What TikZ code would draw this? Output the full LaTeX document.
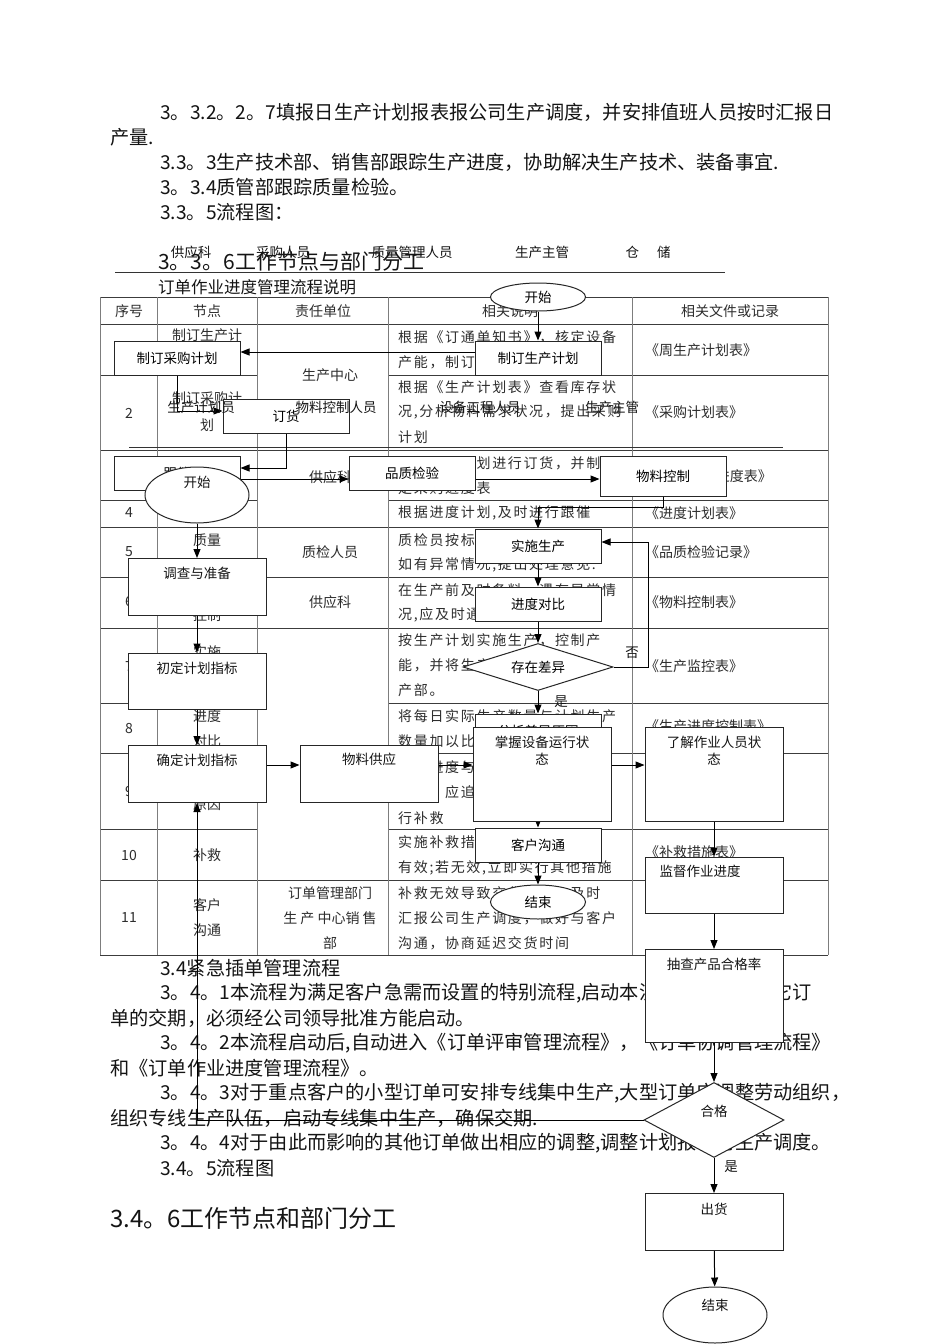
\documentclass[tikz,border=0pt]{standalone}
\usepackage{fontspec}
\setmainfont{Noto Sans CJK SC}
\newfontfamily\widecjk[LetterSpace=12]{Noto Sans CJK SC}
\usepackage{xcolor}
\usepackage{tikz}
\usetikzlibrary{positioning, arrows.meta, shapes.geometric, calc}
\definecolor{ink}{RGB}{20,20,20}
\definecolor{cellink}{RGB}{45,45,45}
\definecolor{rowrule}{RGB}{60,60,60}
\definecolor{colrule}{RGB}{125,125,125}
\newcommand{\bodysz}{\fontsize{19.2}{24}\selectfont}
\newcommand{\cellsz}{\fontsize{14}{25}\selectfont}
\newcommand{\flowsz}{\fontsize{13.5}{17}\selectfont}

\begin{document}
\begin{tikzpicture}[x=1pt, y=-1pt,
    body/.style={anchor=west, inner sep=0pt, font=\bodysz, text=ink},
    cell/.style={inner sep=0pt, font=\cellsz, text=cellink},
    desc/.style={cell, anchor=west, font=\widecjk\cellsz},
    rec/.style={cell, anchor=west},
    lane/.style={inner sep=0pt, font=\flowsz, text=ink},
    hrule/.style={draw=rowrule, line width=0.9pt},
    vrule/.style={draw=colrule, line width=0.9pt},
    abox/.style={draw=black!85, fill=white, line width=1pt, minimum width=126pt,
                 minimum height=34pt, inner sep=0pt, font=\flowsz},
    bbox/.style={draw=black!85, fill=white, line width=1pt, minimum width=138pt, inner sep=0pt},
    blab/.style={font=\flowsz, anchor=north, align=center, inner sep=0pt, text=ink},
    term/.style={ellipse, draw=black!85, fill=white, line width=1pt, inner sep=0pt, font=\flowsz},
    test/.style={diamond, draw=black!85, fill=white, line width=1pt, inner sep=0pt,
                 shape aspect=3, font=\flowsz},
    flow/.style={-{Triangle[length=9pt,width=7pt]}, draw=black, line width=1pt},
    yes/.style={font=\flowsz, inner sep=0pt, text=ink}
  ]
  \fill[white] (0,0) rectangle (950,1344);
  \useasboundingbox (0,0) rectangle (950,1344);

  % text above the table
  \node[body] (p1) at (160,112) {3。3.2。2。7填报日生产计划报表报公司生产调度，并安排值班人员按时汇报日};
  \node[body] (p2) at (110,137) {产量.};
  \node[body] (p3) at (160,162) {3.3。3生产技术部、销售部跟踪生产进度，协助解决生产技术、装备事宜.};
  \node[body] (p4) at (160,187) {3。3.4质管部跟踪质量检验。};
  \node[body] (p5) at (160,212) {3.3。5流程图：};
  \node[body, font=\fontsize{21}{24}\selectfont] (h1) at (158,262) {3。3。6工作节点与部门分工};
  \node[body, font=\fontsize{16.5}{20}\selectfont] (cap) at (158,287) {订单作业进度管理流程说明};

  % table
  \foreach \y in {297,324,450,527,577,628,880,955} \draw[hrule] (100,\y) -- (828,\y);
  \foreach \y in {375,500,703,753,829} {
    \draw[hrule] (100,\y) -- (257,\y);
    \draw[hrule] (388,\y) -- (828,\y);
  }
  \foreach \x in {100,157,257,388,632,828} \draw[vrule] (\x,297) -- (\x,955);

  \node[cell] (hd1) at (129,311) {序号};
  \node[cell] (hd2) at (207,311) {节点};
  \node[cell] (hd3) at (323,311) {责任单位};
  \node[cell] (hd4) at (510,311) {相关说明};
  \node[cell] (hd5) at (730,311) {相关文件或记录};

  \foreach \n/\y in {1/350,2/413,3/475,4/513,5/552,6/602,7/666,8/728,9/791,10/855,11/917}
    \node[cell] (no\n) at (129,\y) {\n};

  \node[cell] (n1a) at (207,335) {制订生产计};
  \node[cell] (n1b) at (207,360) {划};
  \node[cell] (n2a) at (207,398) {制订采购计};
  \node[cell] (n2b) at (207,425) {划};
  \node[cell] (n3) at (207,475) {跟催};
  \node[cell] (n5a) at (207,540) {质量};
  \node[cell] (n5b) at (207,565) {检验};
  \node[cell] (n6a) at (207,590) {物料};
  \node[cell] (n6b) at (207,615) {控制};
  \node[cell] (n7a) at (207,652) {实施};
  \node[cell] (n7b) at (207,677) {生产};
  \node[cell] (n8a) at (207,716) {进度};
  \node[cell] (n8b) at (207,741) {对比};
  \node[cell] (n9a) at (207,779) {分析};
  \node[cell] (n9b) at (207,804) {原因};
  \node[cell] (n10) at (207,855) {补救};
  \node[cell] (n11a) at (207,905) {客户};
  \node[cell] (n11b) at (207,930) {沟通};

  \node[cell] (u1) at (330,375) {生产中心};
  \node[cell] (u3) at (330,477) {供应科};
  \node[cell] (u5) at (330,552) {质检人员};
  \node[cell] (u6) at (330,602) {供应科};
  \node[cell] (u11a) at (330,893) {订单管理部门};
  \node[cell] (u11b) at (330,918) {生\ 产\ 中心销\ 售};
  \node[cell] (u11c) at (330,943) {部};

  \node[desc] (d1a) at (398,337) {根据《订通单知书》，核定设备};
  \node[desc] (d1b) at (398,362) {产能，制订生产计划};
  \node[desc] (d2a) at (398,387) {根据《生产计划表》查看库存状};
  \node[desc] (d2b) at (398,412) {况,分析物料需求状况，提出采购};
  \node[desc] (d2c) at (398,437) {计划};
  \node[desc] (d3a) at (398,463) {根据采购计划进行订货，并制};
  \node[desc] (d3b) at (398,488) {定采购进度表};
  \node[desc] (d4) at (398,513) {根据进度计划,及时进行跟催};
  \node[desc] (d5a) at (398,540) {质检员按标准进行检验，};
  \node[desc] (d5b) at (398,565) {如有异常情况,提出处理意见.};
  \node[desc] (d6a) at (398,590) {在生产前及时备料，遇有异常情};
  \node[desc] (d6b) at (398,615) {况,应及时通知采购补料};
  \node[desc] (d7a) at (398,640) {按生产计划实施生产，控制产};
  \node[desc] (d7b) at (398,665) {能，并将生产情况反馈给生};
  \node[desc] (d7c) at (398,690) {产部。};
  \node[desc] (d8a) at (398,716) {将每日实际生产数量与计划生产};
  \node[desc] (d8b) at (398,741) {数量加以比较，找出进度差异};
  \node[desc] (d9a) at (398,767) {实际进度与计划进度出现差};
  \node[desc] (d9b) at (398,792) {距时，应追究原因，及时进};
  \node[desc] (d9c) at (398,818) {行补救};
  \node[desc] (d10a) at (398,843) {实施补救措施后,检查是否};
  \node[desc] (d10b) at (398,868) {有效;若无效,立即实行其他措施};
  \node[desc] (d11a) at (398,893) {补救无效导致交货延误，及时};
  \node[desc] (d11b) at (398,918) {汇报公司生产调度，做好与客户};
  \node[desc] (d11c) at (398,943) {沟通，协商延迟交货时间};

  \node[rec] (r1) at (645,350) {《周生产计划表》};
  \node[rec] (r2) at (645,412) {《采购计划表》};
  \node[rec, anchor=east] (r3) at (772,476) {《采购进度表》};
  \node[rec] (r4) at (645,513) {《进度计划表》};
  \node[rec] (r5) at (645,552) {《品质检验记录》};
  \node[rec] (r6) at (645,602) {《物料控制表》};
  \node[rec] (r7) at (645,666) {《生产监控表》};
  \node[rec] (r8) at (645,726) {《生产进度控制表》};
  \node[rec] (r10) at (645,852) {《补救措施表》};

  % lane rules
  \draw[draw=black!80, line width=0.9pt] (115,272) -- (725,272);
  \draw[draw=black!80, line width=0.9pt] (129,447) -- (783,447);

  % order flow
  \node[term, minimum width=95pt, minimum height=28pt] (aStart) at (538,297) {开始};
  \node[abox] (aPlan) at (538,358) {制订生产计划};
  \node[abox] (aBuy) at (177,358) {制订采购计划};
  \node[abox] (aOrder) at (286,416) {订货};
  \node[abox] (aChase) at (177,473) {跟催};
  \node[abox] (aQc) at (412,473) {品质检验};
  \node[abox, minimum height=40pt] (aMat) at (663,476) {物料控制};
  \node[abox] (aRun) at (538,546) {实施生产};
  \node[abox] (aCmp) at (538,604) {进度对比};
  \node[test, minimum width=150pt, minimum height=47pt] (aDiff) at (538,667) {存在差异};
  \node[abox] (aAna) at (538,731) {分析差异原因};
  \node[abox] (aCust) at (538,845) {客户沟通};
  \node[term, minimum width=95pt, minimum height=34pt] (aEnd) at (538,902) {结束};

  \draw[flow] (aStart) -- (aPlan);
  \draw[flow] ([yshift=6pt]aPlan.west) -- ([yshift=6pt]aPlan.west -| aBuy.east);
  \draw[flow] (aBuy.south) |- ([yshift=5pt]aOrder.west);
  \draw[flow] (aOrder.south) |- ([yshift=5pt]aChase.east);
  \draw[flow] ([yshift=-6pt]aChase.east) -- ([yshift=-6pt]aChase.east -| aQc.west);
  \draw[flow] ([yshift=-6pt]aQc.east) -- ([yshift=-6pt]aQc.east -| aMat.west);
  \draw[flow] (aMat.south) -- ++(0,11) -| (aRun.north);
  \draw[flow] (aRun) -- (aCmp);
  \draw[flow] (aCmp) -- (aDiff);
  \draw[flow] (aDiff) -- (aAna);
  \draw[flow] (aDiff.east) -- ++(35,0) |- ([yshift=4pt]aRun.east);
  \draw[flow] (aAna) -- (aCust);
  \draw[flow] (aCust) -- (aEnd);
  \node[yes] (aNo) at (632,653) {否};
  \node[yes] (aYes) at (561,702) {是};

  % lane headers
  \node[lane] (ln1) at (191,252) {供应科};
  \node[lane] (ln2) at (283,252) {采购人员};
  \node[lane] (ln3) at (412,252) {质量管理人员};
  \node[lane] (ln4) at (542,252) {生产主管};
  \node[lane] (ln5) at (648,252) {仓\hspace{18pt}储};
  \node[lane] (ln6) at (201,407) {生产计划员};
  \node[lane] (ln7) at (336,407) {物料控制人员};
  \node[lane] (ln8) at (480,407) {设备工程人员};
  \node[lane] (ln9) at (612,407) {生产主管};

  % text below the table
  \node[body] (q1) at (160,968) {3.4紧急插单管理流程};
  \node[body] (q2) at (160,993) {3。4。1本流程为满足客户急需而设置的特别流程,启动本流程将会影响其它订};
  \node[body] (q3) at (110,1018) {单的交期，必须经公司领导批准方能启动。};
  \node[body] (q4) at (160,1043) {3。4。2本流程启动后,自动进入《订单评审管理流程》，《订单协调管理流程》};
  \node[body] (q5) at (110,1068) {和《订单作业进度管理流程》。};
  \node[body] (q6) at (160,1093) {3。4。3对于重点客户的小型订单可安排专线集中生产,大型订单应调整劳动组织，};
  \node[body] (q7) at (110,1118) {组织专线生产队伍，启动专线集中生产，确保交期.};
  \node[body] (q8) at (160,1143) {3。4。4对于由此而影响的其他订单做出相应的调整,调整计划报公司生产调度。};
  \node[body] (q9) at (160,1168) {3.4。5流程图};
  \node[body, font=\fontsize{24}{28}\selectfont] (h2) at (110,1218) {3.4。6工作节点和部门分工};

  % production flow
  \node[term, minimum width=104pt, minimum height=56pt,
        label={[blab, yshift=-9pt]north:开始}] (bStart) at (197,495) {};
  \node[bbox, minimum height=57pt, label={[blab, yshift=-9pt]north:调查与准备}] (bPrep) at (197,587) {};
  \node[bbox, minimum height=56pt, label={[blab, yshift=-9pt]north:初定计划指标}] (bInit) at (197,681) {};
  \node[bbox, minimum height=57pt, label={[blab, yshift=-9pt]north:确定计划指标}] (bFix) at (197,774) {};
  \node[bbox, minimum height=57pt, label={[blab, yshift=-8pt]north:物料供应}] (bMat) at (369,774) {};
  \node[bbox, minimum height=94pt, label={[blab, yshift=-9pt]north:掌握设备运行状\\态}] (bEqp) at (542,774) {};
  \node[bbox, minimum height=94pt, label={[blab, yshift=-9pt]north:了解作业人员状\\态}] (bStaff) at (714,774) {};
  \node[bbox, minimum height=56pt, label={[blab, yshift=-8pt, xshift=-14pt]north:监督作业进度}] (bSup) at (714,885) {};
  \node[bbox, minimum height=93pt, label={[blab, yshift=-9pt]north:抽查产品合格率}] (bChk) at (714,996) {};
  \node[test, minimum width=140pt, minimum height=75pt, label={[blab, yshift=-23pt]north:合格}] (bOk) at (714,1120) {};
  \node[bbox, minimum height=57pt, label={[blab, yshift=-10pt]north:出货}] (bShip) at (714,1222) {};
  \node[term, minimum width=104pt, minimum height=56pt,
        label={[blab, yshift=-12pt]north:结束}] (bEnd) at (715,1315) {};

  \draw[flow] (bStart) -- (bPrep);
  \draw[flow] (bPrep) -- (bInit);
  \draw[flow] (bInit) -- (bFix);
  \draw[flow] ([yshift=9pt]bFix.east) -- ([yshift=9pt]bFix.east -| bMat.west);
  \draw[flow] ([yshift=9pt]bMat.east) -- ([yshift=9pt]bMat.east -| bEqp.west);
  \draw[flow] ([yshift=9pt]bEqp.east) -- ([yshift=9pt]bEqp.east -| bStaff.west);
  \draw[flow] (bStaff) -- (bSup);
  \draw[flow] (bSup) -- (bChk);
  \draw[flow] (bChk) -- (bOk);
  \draw[flow] (bOk) -- (bShip);
  \draw[flow] (bShip) -- (bEnd);
  \draw[flow] (bOk.west) -| (bFix.south);
  \node[yes] (bYes) at (731,1167) {是};
\end{tikzpicture}
\end{document}
